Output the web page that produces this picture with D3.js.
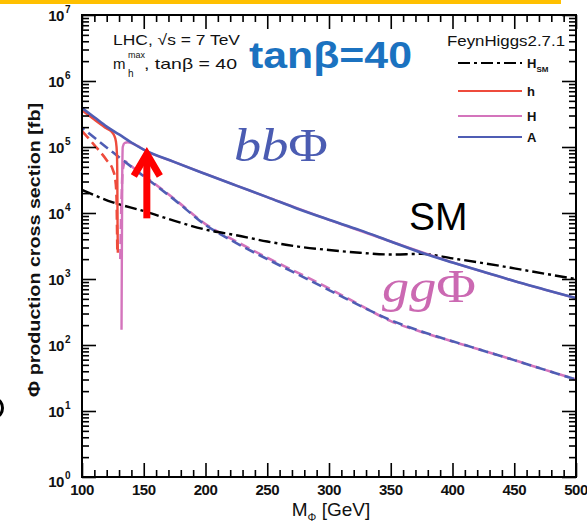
<!DOCTYPE html>
<html>
<head>
<meta charset="utf-8">
<script src="https://cdn.jsdelivr.net/npm/d3@7"></script>
<style>
  html, body { margin: 0; padding: 0; background: #fff; }
  svg { display: block; font-family: "Liberation Sans", Arial, Helvetica, sans-serif; }
</style>
</head>
<body>
<svg id="chart" width="587" height="524"></svg>
<script>
// Higgs production cross sections, LHC 7 TeV, mhmax scenario, tan(beta) = 40 (values in fb)

// A boson, bb-associated production (solid blue)
const massBbA = [100, 110, 120, 130, 140, 150, 175, 200, 225, 250, 275, 300, 325, 350, 375, 400, 425, 450, 475, 500];
const xsBbA   = [3.89e5, 2.82e5, 2.04e5, 1.55e5, 1.17e5, 9.1e4, 5.9e4, 3.9e4, 2.6e4, 1.74e4, 1.15e4, 7.9e3, 5.5e3, 3.7e3, 2.5e3, 1.78e3, 1.29e3, 930, 690, 513];

// A boson, gluon fusion (dashed blue)
const massGgA = [100, 125, 150, 175, 200, 225, 250, 275, 300, 325, 350, 375, 400, 425, 450, 475, 500];
const xsGgA   = [1.95e5, 8.3e4, 3.6e4, 1.58e4, 6.6e3, 3.5e3, 2.0e3, 1.17e3, 680, 395, 238, 160, 114, 82, 59, 42, 30];

// heavy H boson, bb-associated (solid pink)
const massBbH = [132.0, 132.3, 132.6, 133.0, 134.5, 137, 140, 145, 150, 175, 200, 250, 300, 350, 400, 450, 500];
const xsBbH   = [170, 3.0e3, 4.0e4, 1.0e5, 1.15e5, 1.18e5, 1.15e5, 1.04e5, 9.1e4, 5.9e4, 3.9e4, 1.74e4, 7.9e3, 3.7e3, 1.78e3, 930, 513];

// heavy H boson, gluon fusion (dashed pink)
const massGgH = [131, 132, 133, 135, 140, 150, 175, 200, 225, 250, 275, 300, 325, 350, 375, 400, 425, 450, 475, 500];
const xsGgH   = [2.0e3, 1.6e4, 4.5e4, 6.0e4, 5.1e4, 3.7e4, 1.62e4, 6.8e3, 3.7e3, 2.1e3, 1.24e3, 720, 405, 230, 158, 113, 82, 59, 42, 30];

// light h boson, bb-associated (solid red)
const massBbh = [100, 110, 120, 124, 126, 127.5, 128.3, 128.6, 128.8, 129.0];
const xsBbh   = [3.6e5, 2.6e5, 1.9e5, 1.7e5, 1.5e5, 1.2e5, 7.9e4, 3.2e4, 6.3e3, 2.5e3];

// light h boson, gluon fusion (dashed red)
const massGgh = [100, 110, 120, 125, 127, 128, 128.3, 128.6];
const xsGgh   = [1.74e5, 1.07e5, 6.3e4, 4.5e4, 3.2e4, 1.6e4, 7e3, 2.8e3];

// Standard Model Higgs, total (dash-dot black)
const massSM = [100, 125, 150, 175, 200, 225, 250, 275, 300, 325, 350, 375, 400, 425, 450, 475, 500];
const xsSM   = [2.24e4, 1.45e4, 1.07e4, 7.6e3, 5.6e3, 4.6e3, 3.7e3, 3.1e3, 2.75e3, 2.5e3, 2.35e3, 2.4e3, 2.05e3, 1.74e3, 1.45e3, 1.2e3, 1.0e3];

// axis ticks
const xMajorTicks = [100, 150, 200, 250, 300, 350, 400, 450, 500];
const yDecades = [0, 1, 2, 3, 4, 5, 6, 7];

// legend entries
const legendLabels = ["H", "h", "H", "A"];

const colBlue = "#4f5db4";
const colRed = "#ee4b3c";
const colPink = "#d474bc";

const svg = d3.select("#chart");
const plotL = 82, plotR = 576, plotT = 15, plotB = 477;

const x = d3.scaleLinear().domain([100, 500]).range([plotL, plotR]);
const y = d3.scaleLog().domain([1, 1e7]).range([plotB, plotT]);

// slide decorations: top rule and a stray glyph edge on the left margin
svg.append("rect").attr("x", 0).attr("y", 0).attr("width", 561).attr("height", 4).attr("fill", "#ffc000");
svg.append("ellipse").attr("cx", -4).attr("cy", 408).attr("rx", 6.5).attr("ry", 8.5)
  .attr("fill", "none").attr("stroke", "#000").attr("stroke-width", 3);

// clip region for curves
svg.append("clipPath").attr("id", "plotclip")
  .append("rect").attr("x", plotL).attr("y", plotT).attr("width", plotR - plotL).attr("height", plotB - plotT);

const plot = svg.append("g").attr("clip-path", "url(#plotclip)");

const line = d3.line()
  .x(d => x(d[0]))
  .y(d => y(d[1]))
  .curve(d3.curveMonotoneX);

function series(masses, values) { return masses.map((m, i) => [m, values[i]]); }

function drawCurve(masses, values, color, width, dash, offset) {
  plot.append("path")
    .datum(series(masses, values))
    .attr("d", line)
    .attr("fill", "none")
    .attr("stroke", color)
    .attr("stroke-width", width)
    .attr("stroke-dasharray", dash || null)
    .attr("stroke-dashoffset", offset || 0)
    .attr("stroke-linejoin", "round");
}

// gluon fusion curves (dashed)
drawCurve(massGgh, xsGgh, colRed, 2.6, "10,5");
drawCurve(massGgH, xsGgH, colPink, 2.6, "10,5", 0);
drawCurve(massGgA, xsGgA, colBlue, 2.6, "10,5", 7);
// SM
drawCurve(massSM, xsSM, "#000", 2.4, "12,4,3,4");
// bb-associated curves (solid)
drawCurve(massBbh, xsBbh, colRed, 2.4);
drawCurve(massBbH, xsBbH, colPink, 2.4);
drawCurve(massBbA, xsBbA, colBlue, 2.6);

// axes: ticks point inwards on all four sides
const xMinor = d3.range(100, 501, 10).filter(v => v % 50 !== 0);
const yMinor = [];
yDecades.slice(0, -1).forEach(e => { for (let k = 2; k <= 9; k++) yMinor.push(k * Math.pow(10, e)); });
const yMajor = yDecades.map(e => Math.pow(10, e));

function styleAxis(g) {
  g.select(".domain").remove();
  g.selectAll(".tick line").attr("stroke", "#000").attr("stroke-width", 1.6);
  g.selectAll(".tick text").remove();
}

svg.append("g").attr("transform", `translate(0,${plotB})`)
  .call(d3.axisBottom(x).tickValues(xMajorTicks).tickSize(-14)).call(styleAxis);
svg.append("g").attr("transform", `translate(0,${plotB})`)
  .call(d3.axisBottom(x).tickValues(xMinor).tickSize(-7)).call(styleAxis);
svg.append("g").attr("transform", `translate(0,${plotT})`)
  .call(d3.axisTop(x).tickValues(xMajorTicks).tickSize(-14)).call(styleAxis);
svg.append("g").attr("transform", `translate(0,${plotT})`)
  .call(d3.axisTop(x).tickValues(xMinor).tickSize(-7)).call(styleAxis);

svg.append("g").attr("transform", `translate(${plotL},0)`)
  .call(d3.axisLeft(y).tickValues(yMajor).tickSize(-14)).call(styleAxis);
svg.append("g").attr("transform", `translate(${plotL},0)`)
  .call(d3.axisLeft(y).tickValues(yMinor).tickSize(-7)).call(styleAxis);
svg.append("g").attr("transform", `translate(${plotR},0)`)
  .call(d3.axisRight(y).tickValues(yMajor).tickSize(-14)).call(styleAxis);
svg.append("g").attr("transform", `translate(${plotR},0)`)
  .call(d3.axisRight(y).tickValues(yMinor).tickSize(-7)).call(styleAxis);

// frame
svg.append("rect").attr("x", plotL).attr("y", plotT).attr("width", plotR - plotL).attr("height", plotB - plotT)
  .attr("fill", "none").attr("stroke", "#000").attr("stroke-width", 2);

// x tick labels
svg.append("g").selectAll("text").data(xMajorTicks).join("text")
  .attr("x", d => x(d)).attr("y", 495)
  .attr("text-anchor", "middle").attr("font-size", 15).attr("font-weight", "bold")
  .attr("letter-spacing", -0.5).attr("fill", "#111")
  .text(d => d);

// y tick labels as powers of ten
const yl = svg.append("g").selectAll("text").data(yDecades).join("text")
  .attr("x", 70).attr("y", d => y(Math.pow(10, d)) + (d === 0 ? 10 : 6))
  .attr("text-anchor", "end").attr("font-size", 15).attr("font-weight", "bold")
  .attr("letter-spacing", -0.5).attr("fill", "#111");
yl.append("tspan").text("10");
yl.append("tspan").attr("font-size", 10).attr("dy", -8).attr("dx", 1).text(d => d);

// axis titles
const xt = svg.append("text").attr("x", 331).attr("y", 516).attr("text-anchor", "middle")
  .attr("font-size", 19).attr("fill", "#111");
xt.append("tspan").text("M");
xt.append("tspan").attr("font-size", 11).attr("dy", 5).text("Φ");
xt.append("tspan").attr("dy", -5).text(" [GeV]");

svg.append("text").attr("transform", "translate(40,250) rotate(-90)")
  .attr("text-anchor", "middle").attr("font-size", 17).attr("font-weight", "bold").attr("fill", "#111")
  .attr("textLength", 294).attr("lengthAdjust", "spacingAndGlyphs")
  .text("Φ production cross section [fb]");

// scenario labels
svg.append("text").attr("x", 113).attr("y", 45).attr("font-size", 15).attr("fill", "#111")
  .attr("textLength", 127).attr("lengthAdjust", "spacingAndGlyphs")
  .text("LHC, √s = 7 TeV");
svg.append("text").attr("x", 113).attr("y", 69).attr("font-size", 15).attr("fill", "#111").text("m");
svg.append("text").attr("x", 128).attr("y", 77).attr("font-size", 10).attr("fill", "#111").text("h");
svg.append("text").attr("x", 128).attr("y", 58).attr("font-size", 9).attr("fill", "#111").text("max");
svg.append("text").attr("x", 144).attr("y", 69).attr("font-size", 15).attr("fill", "#111")
  .attr("textLength", 93).attr("lengthAdjust", "spacingAndGlyphs")
  .text(", tanβ = 40");

svg.append("text").attr("x", 249).attr("y", 68).attr("font-size", 36).attr("font-weight", "bold")
  .attr("fill", "#1b72c0").attr("textLength", 163).attr("lengthAdjust", "spacingAndGlyphs")
  .text("tanβ=40");

svg.append("text").attr("x", 447).attr("y", 46).attr("font-size", 15).attr("fill", "#111")
  .attr("textLength", 118).attr("lengthAdjust", "spacingAndGlyphs")
  .text("FeynHiggs2.7.1");

// legend
const legendY = [63, 91, 116, 137];
const legendStyle = [
  { color: "#000", dash: "12,4,3,4" },
  { color: colRed, dash: null },
  { color: colPink, dash: null },
  { color: colBlue, dash: null }
];
const lg = svg.append("g");
legendLabels.forEach((lab, i) => {
  lg.append("line").attr("x1", 458).attr("x2", 522).attr("y1", legendY[i]).attr("y2", legendY[i])
    .attr("stroke", legendStyle[i].color).attr("stroke-width", 2.2)
    .attr("stroke-dasharray", legendStyle[i].dash);
  const t = lg.append("text").attr("x", 527).attr("y", legendY[i] + 5)
    .attr("font-size", 13).attr("font-weight", "bold").attr("fill", "#111").text(lab);
  if (i === 0) t.append("tspan").attr("font-size", 8).attr("dy", 4).text("SM");
});

// process labels
const bbLab = svg.append("text").attr("x", 234).attr("y", 161)
  .attr("font-family", "'Liberation Serif', 'DejaVu Serif', serif").attr("font-size", 46).attr("fill", "#4b5cb2")
  .attr("textLength", 94).attr("lengthAdjust", "spacingAndGlyphs");
bbLab.append("tspan").attr("font-style", "italic").text("bb");
bbLab.append("tspan").text("Φ");

const ggLab = svg.append("text").attr("x", 382).attr("y", 302)
  .attr("font-family", "'Liberation Serif', 'DejaVu Serif', serif").attr("font-size", 46).attr("fill", "#cb69b2")
  .attr("textLength", 94).attr("lengthAdjust", "spacingAndGlyphs");
ggLab.append("tspan").attr("font-style", "italic").text("gg");
ggLab.append("tspan").text("Φ");

svg.append("text").attr("x", 409).attr("y", 230).attr("font-size", 39).attr("fill", "#000").text("SM");

// red arrow pointing at the H / A solid curve
const arrowMass = 152.5;
const ax = x(arrowMass), tipY = y(8.7e4), tailY = y(8.3e3);
svg.append("line").attr("x1", ax).attr("x2", ax).attr("y1", tipY + 4).attr("y2", tailY)
  .attr("stroke", "#ff0000").attr("stroke-width", 7);
svg.append("path")
  .attr("d", `M${ax - 13},${tipY + 25} L${ax},${tipY + 3} L${ax + 13},${tipY + 25}`)
  .attr("fill", "none").attr("stroke", "#ff0000").attr("stroke-width", 7)
  .attr("stroke-linejoin", "miter");
</script>
</body>
</html>
